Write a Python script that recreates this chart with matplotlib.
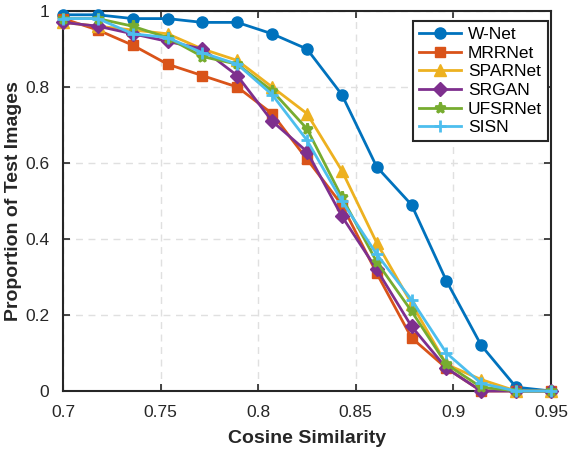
import matplotlib
matplotlib.use("Agg")
import matplotlib.pyplot as plt
import numpy as np

plt.rcParams['font.family'] = ['Liberation Sans', 'DejaVu Sans']

x = np.linspace(0.7, 0.95, 15)
series_names = ["W-Net", "MRRNet", "SPARNet", "SRGAN", "UFSRNet", "SISN"]
wnet = [0.99, 0.99, 0.98, 0.98, 0.97, 0.97, 0.94, 0.90, 0.78, 0.59, 0.49, 0.29, 0.12, 0.01, 0.0]
mrrnet = [0.98, 0.95, 0.91, 0.86, 0.83, 0.80, 0.73, 0.61, 0.49, 0.31, 0.14, 0.06, 0.0, 0.0, 0.0]
sparnet = [0.97, 0.96, 0.95, 0.94, 0.90, 0.87, 0.80, 0.73, 0.58, 0.39, 0.23, 0.07, 0.03, 0.0, 0.0]
srgan = [0.97, 0.96, 0.94, 0.92, 0.90, 0.83, 0.71, 0.63, 0.46, 0.32, 0.17, 0.06, 0.0, 0.0, 0.0]
ufsrnet = [0.98, 0.98, 0.96, 0.93, 0.88, 0.86, 0.79, 0.69, 0.51, 0.34, 0.21, 0.07, 0.01, 0.0, 0.0]
sisn = [0.98, 0.98, 0.94, 0.93, 0.89, 0.86, 0.78, 0.66, 0.50, 0.36, 0.24, 0.10, 0.02, 0.0, 0.0]
data = [wnet, mrrnet, sparnet, srgan, ufsrnet, sisn]

colors = ["#0072BD", "#D95319", "#EDB120", "#7E2F8E", "#77AC30", "#4DBEEE"]
markers = ["o", "s", "^", "D", "*", "+"]
msizes = [8, 7, 9, 7, 8, 9]

fig = plt.figure(figsize=(5.69, 4.49), dpi=100)
ax = fig.add_axes([0.1107, 0.1292, 0.8576, 0.8463])

for name, y, c, m, ms in zip(series_names, data, colors, markers, msizes):
    kw = dict(markeredgewidth=2) if m in ("+", "*") else dict(markeredgewidth=1)
    ax.plot(x, y, color=c, marker=m, markersize=ms, linewidth=2, label=name,
            markerfacecolor=c, markeredgecolor=c, clip_on=False, zorder=3, **kw)

ax.set_xlim(0.7, 0.95)
ax.set_ylim(0, 1)
ax.set_xticks([0.7, 0.75, 0.8, 0.85, 0.9, 0.95])
ax.set_xticklabels(["0.7", "0.75", "0.8", "0.85", "0.9", "0.95"])
ax.set_yticks([0, 0.2, 0.4, 0.6, 0.8, 1.0])
ax.set_yticklabels(["0", "0.2", "0.4", "0.6", "0.8", "1"])
ax.tick_params(direction='in', top=True, right=True, labelsize=12.5, colors='#262626',
               length=5, width=1.2)
ax.tick_params(axis='x', pad=10)
ax.tick_params(axis='y', pad=10)
ax.grid(True, linestyle=(0, (5, 4)), color='#e0e0e0', linewidth=1)
ax.set_axisbelow(True)
for s in ax.spines.values():
    s.set_linewidth(1.5)
    s.set_color('#262626')

ax.set_xlabel("Cosine Similarity", fontsize=14, fontweight='bold', color='#262626', labelpad=7)
ax.set_ylabel("Proportion of Test Images", fontsize=14, fontweight='bold', color='#262626', labelpad=2)

leg = ax.legend(loc='upper right', fontsize=12.5, fancybox=False, framealpha=1,
                edgecolor='#262626', borderpad=0.35, labelspacing=0.2,
                handlelength=2.4, handletextpad=0.4, borderaxespad=0,
                bbox_to_anchor=(0.994, 0.974))
leg.get_frame().set_linewidth(1.5)

fig.savefig("out.png", dpi=100)
